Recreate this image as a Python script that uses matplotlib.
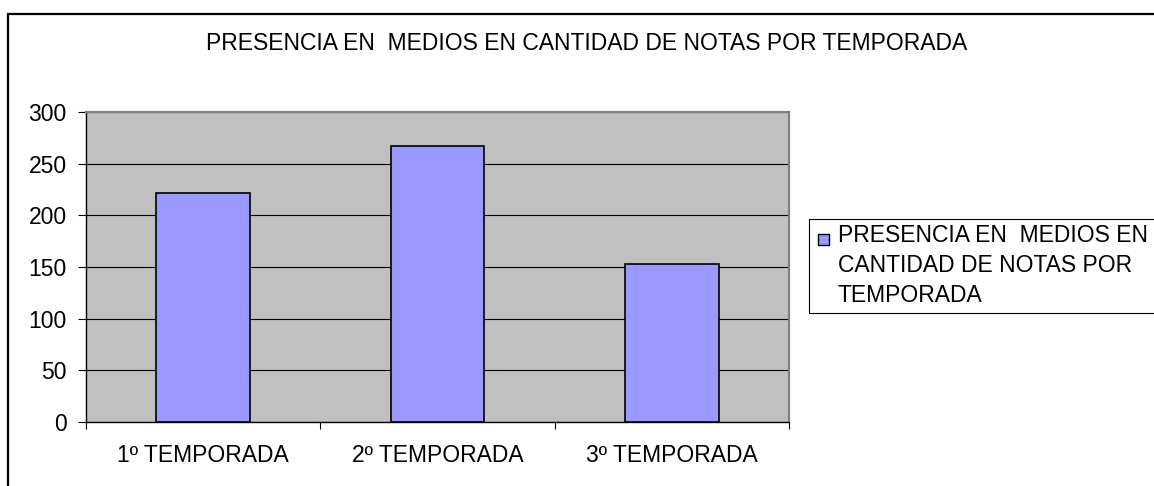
import matplotlib
matplotlib.use("Agg")
import matplotlib.pyplot as plt
from matplotlib.patches import Rectangle
import numpy as np

# datos
categorias = ["1º TEMPORADA", "2º TEMPORADA", "3º TEMPORADA"]
notas = [222, 267, 153]
titulo = "PRESENCIA EN  MEDIOS EN CANTIDAD DE NOTAS POR TEMPORADA"
leyenda = "PRESENCIA EN  MEDIOS EN\nCANTIDAD DE NOTAS POR\nTEMPORADA"
y_ticks = [0, 50, 100, 150, 200, 250, 300]

color_barra = "#9999FF"
W, H = 1154, 486

plt.rcParams["font.family"] = ["Liberation Sans", "DejaVu Sans"]
fs = 16.5

fig = plt.figure(figsize=(W / 100, H / 100), dpi=100)
fig.patch.set_facecolor("white")

# marco exterior del grafico (se sale por la derecha y por abajo)
fig.patches.append(Rectangle((8 / W, -0.2), 1.2, 1 - 14 / H + 0.2,
                             transform=fig.transFigure, fill=False,
                             edgecolor="black", linewidth=1.6))

ax = fig.add_axes([86 / W, 1 - 422 / H, (789 - 86) / W, (422 - 112) / H])
ax.set_facecolor("#C0C0C0")

x = np.arange(len(categorias))
ax.bar(x, notas, width=0.4, color=color_barra, edgecolor="black", linewidth=1.2, zorder=3)

ax.set_xlim(-0.5, len(categorias) - 0.5)
ax.set_ylim(0, 300)
ax.set_yticks(y_ticks)
ax.set_yticklabels([str(v) for v in y_ticks], fontsize=fs)
ax.yaxis.grid(True, color="black", linewidth=0.8, zorder=1)
ax.tick_params(axis="y", length=6, width=0.8, pad=8, colors="black")

# ticks mayores en los limites de categoria, etiquetas en los centros
ax.set_xticks(np.arange(-0.5, len(categorias)), labels=[""] * (len(categorias) + 1))
ax.tick_params(axis="x", which="major", length=5, width=0.8)
ax.set_xticks(x, labels=categorias, minor=True)
ax.tick_params(axis="x", which="minor", length=0, pad=16, labelsize=fs)

for s in ["left", "bottom"]:
    ax.spines[s].set_color("black")
    ax.spines[s].set_linewidth(1.0)
for s in ["top", "right"]:
    ax.spines[s].set_color("#808080")
    ax.spines[s].set_linewidth(1.6)

fig.text(587 / W, 1 - 44 / H, titulo, ha="center", va="center", fontsize=fs)

# leyenda (se sale por la derecha)
fig.patches.append(Rectangle((809 / W, 1 - 313 / H), 0.5, (313 - 219) / H,
                             transform=fig.transFigure, facecolor="white",
                             edgecolor="black", linewidth=0.8))
fig.patches.append(Rectangle((818 / W, 1 - 245 / H), 11 / W, 11 / H,
                             transform=fig.transFigure, facecolor=color_barra,
                             edgecolor="black", linewidth=1.0))
fig.text(838 / W, 1 - 224 / H, leyenda, ha="left", va="top", fontsize=fs,
         linespacing=1.4)

fig.savefig("out.png", dpi=100)
